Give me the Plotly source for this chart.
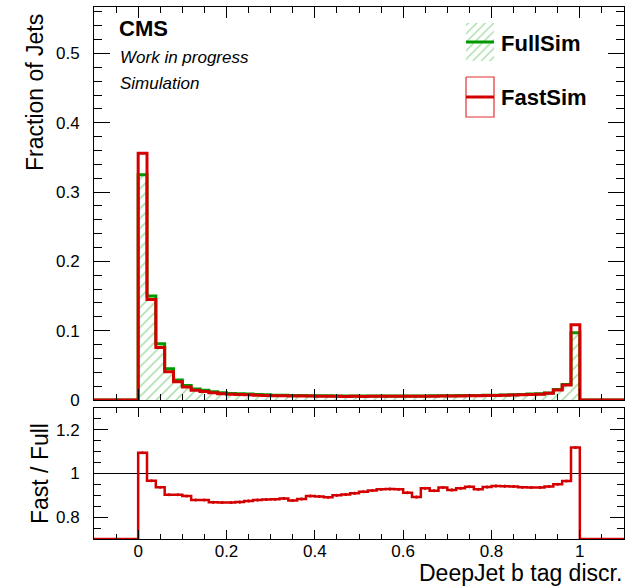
import numpy as np
import plotly.graph_objects as go

# ---------------- data ----------------
bin_lo, bin_hi, bin_w = 0.0, 1.0, 0.02
x_lo, x_hi = -0.1, 1.1

full_sim = [0.325, 0.150, 0.081, 0.045, 0.029, 0.021, 0.016, 0.014, 0.012, 0.0105,
            0.0095, 0.0090, 0.0085, 0.0080, 0.0075, 0.0070, 0.0068, 0.0066, 0.0064, 0.0062,
            0.0061, 0.0060, 0.0059, 0.0058, 0.0058, 0.0057, 0.0057, 0.0057, 0.0057, 0.0058,
            0.0058, 0.0059, 0.0059, 0.0060, 0.0061, 0.0062, 0.0063, 0.0064, 0.0066, 0.0068,
            0.0070, 0.0073, 0.0075, 0.0080, 0.0085, 0.0090, 0.0102, 0.0152, 0.0225, 0.097]

fast_sim = [0.356, 0.145, 0.0759, 0.0406, 0.0262, 0.0188, 0.0141, 0.0123, 0.0104, 0.0091,
            0.0082, 0.0078, 0.0074, 0.0070, 0.0066, 0.0062, 0.0060, 0.0058, 0.0057, 0.0056,
            0.0055, 0.0053, 0.0053, 0.0052, 0.0053, 0.0052, 0.0053, 0.0053, 0.0053, 0.0054,
            0.0053, 0.0053, 0.0055, 0.0055, 0.0057, 0.0057, 0.0059, 0.0060, 0.0061, 0.0064,
            0.0066, 0.0069, 0.0071, 0.0075, 0.0080, 0.0084, 0.0096, 0.0145, 0.0217, 0.1085]

ratio = [1.095, 0.967, 0.937, 0.903, 0.903, 0.897, 0.879, 0.879, 0.868, 0.867,
         0.867, 0.869, 0.874, 0.879, 0.881, 0.882, 0.886, 0.876, 0.883, 0.897,
         0.895, 0.891, 0.900, 0.904, 0.910, 0.917, 0.922, 0.928, 0.929, 0.928,
         0.912, 0.892, 0.932, 0.921, 0.936, 0.925, 0.933, 0.939, 0.928, 0.938,
         0.943, 0.942, 0.941, 0.937, 0.936, 0.936, 0.941, 0.951, 0.966, 1.119]

ratio_err = [0.002, 0.003, 0.003, 0.004, 0.004, 0.004, 0.005, 0.005, 0.005, 0.005,
             0.006, 0.006, 0.006, 0.006, 0.006, 0.006, 0.006, 0.006, 0.006, 0.006,
             0.006, 0.006, 0.006, 0.006, 0.006, 0.006, 0.006, 0.006, 0.006, 0.006,
             0.006, 0.006, 0.006, 0.006, 0.006, 0.006, 0.006, 0.006, 0.006, 0.006,
             0.006, 0.006, 0.006, 0.005, 0.005, 0.005, 0.005, 0.004, 0.004, 0.003]

series_names = ["FullSim", "FastSim"]
x_title = "DeepJet b tag discr."
y_title = "Fraction of Jets"
ratio_title = "Fast / Full"

# ---------------- helpers ----------------
edges = np.round(np.arange(bin_lo, bin_hi + bin_w / 2, bin_w), 4)
centers = (edges[:-1] + edges[1:]) / 2


def step_xy(vals):
    xs = [x_lo] + list(edges[:-1]) + [bin_hi, x_hi]
    ys = [0.0] + list(vals) + [0.0, 0.0]
    return xs, ys


RED = "#d40000"
GREEN = "#009a00"
HATCH = "#47b847"
FONT = "Liberation Sans, Arial, Helvetica, sans-serif"

y_main = [0, 0.567]
y_ratio = [0.7, 1.3]

fig = go.Figure()

hatch = dict(shape="/", fgcolor=HATCH, bgcolor="rgba(0,0,0,0)", size=7, solidity=0.22)

xf, yf = step_xy(full_sim)
fig.add_trace(go.Scatter(x=xf, y=yf, mode="lines", line=dict(color=GREEN, width=3, shape="hv"),
                         fill="tozeroy", fillcolor="rgba(0,0,0,0)", fillpattern=hatch,
                         name=series_names[0], showlegend=False, xaxis="x", yaxis="y"))
xs, ys = step_xy(fast_sim)
fig.add_trace(go.Scatter(x=xs, y=ys, mode="lines", line=dict(color=RED, width=3, shape="hv"),
                         name=series_names[1], showlegend=False, xaxis="x", yaxis="y"))

# ratio panel (values of 0 outside [0,1] drawn at the lower frame edge as in ROOT)
xr, yr = step_xy(ratio)
yr_disp = [max(v, y_ratio[0]) for v in yr]
fig.add_trace(go.Scatter(x=xr, y=yr_disp, mode="lines", line=dict(color=RED, width=2.5, shape="hv"),
                         showlegend=False, xaxis="x2", yaxis="y2"))
fig.add_trace(go.Scatter(x=centers, y=ratio, mode="markers",
                         marker=dict(color=RED, size=3),
                         error_y=dict(type="data", array=ratio_err, color=RED, thickness=1.5, width=0),
                         showlegend=False, xaxis="x2", yaxis="y2"))

# legend drawn on an overlay axis in pixel units
lx0, lx1 = 466, 494
fig.add_trace(go.Scatter(x=[lx0, lx1, lx1, lx0, lx0], y=[23, 23, 61, 61, 23], mode="lines",
                         line=dict(width=0), fill="toself", fillcolor="rgba(0,0,0,0)",
                         fillpattern=dict(shape="/", fgcolor=HATCH, bgcolor="rgba(0,0,0,0)", size=6, solidity=0.22),
                         showlegend=False, hoverinfo="skip", xaxis="x3", yaxis="y3"))
fig.add_trace(go.Scatter(x=[lx0, lx1], y=[42, 42], mode="lines", line=dict(color=GREEN, width=3),
                         showlegend=False, hoverinfo="skip", xaxis="x3", yaxis="y3"))
fig.add_trace(go.Scatter(x=[lx0, lx1, lx1, lx0, lx0], y=[77, 77, 117, 117, 77], mode="lines",
                         line=dict(color="#e03030", width=1.2),
                         showlegend=False, hoverinfo="skip", xaxis="x3", yaxis="y3"))
fig.add_trace(go.Scatter(x=[lx0, lx1], y=[97, 97], mode="lines", line=dict(color=RED, width=3),
                         showlegend=False, hoverinfo="skip", xaxis="x3", yaxis="y3"))

axis_common = dict(showline=True, linecolor="black", linewidth=1, mirror="ticks",
                   ticks="inside", tickcolor="black", showgrid=False, zeroline=False,
                   tickfont=dict(family=FONT, size=17, color="black"))

fig.update_layout(
    width=638, height=588,
    margin=dict(l=94, r=14, t=7, b=49),
    paper_bgcolor="white", plot_bgcolor="rgba(0,0,0,0)",
    showlegend=False,
    xaxis=dict(domain=[0, 1], anchor="y", range=[x_lo, x_hi], showticklabels=False,
               tick0=0, dtick=0.2, ticklen=11,
               minor=dict(ticks="inside", dtick=0.05, tick0=0, ticklen=6, tickcolor="black"),
               **axis_common),
    yaxis=dict(domain=[0.2613, 1], anchor="x", range=y_main, tick0=0, dtick=0.1, ticklen=16,
               ticklabelstandoff=10,
               minor=dict(ticks="inside", dtick=0.02, tick0=0, ticklen=8, tickcolor="black"),
               **axis_common),
    xaxis2=dict(domain=[0, 1], anchor="y2", range=[x_lo, x_hi], matches="x",
                tick0=0, dtick=0.2, ticklen=9, ticklabelstandoff=-3,
                minor=dict(ticks="inside", dtick=0.05, tick0=0, ticklen=5, tickcolor="black"),
                **axis_common),
    yaxis2=dict(domain=[0, 0.2462], anchor="x2", range=y_ratio, tick0=0, dtick=0.2, ticklen=14,
                ticklabelstandoff=10,
                minor=dict(ticks="inside", dtick=0.05, tick0=0, ticklen=7, tickcolor="black"),
                **axis_common),
    xaxis3=dict(overlaying="x", anchor="y3", range=[94, 624], visible=False, fixedrange=True),
    yaxis3=dict(overlaying="y", anchor="x3", range=[400, 7], visible=False, fixedrange=True),
)

fig.add_shape(type="line", xref="x2", yref="y2", x0=x_lo, x1=x_hi, y0=1, y1=1,
              line=dict(color="black", width=1), layer="below")


def px_x(p):
    return (p - 94) / 530


def px_y(p):
    return (539 - p) / 532


ann = [
    dict(text=y_title, x=px_x(35), y=px_y(93), textangle=-90, font=dict(size=23)),
    dict(text=ratio_title, x=px_x(40), y=px_y(474), textangle=-90, font=dict(size=23)),
    dict(text=x_title, x=1.0, y=px_y(573), xanchor="right", font=dict(size=23)),
    dict(text="<b>CMS</b>", x=px_x(117), y=px_y(29), xanchor="left", font=dict(size=22)),
    dict(text="<i>Work in progress</i>", x=px_x(118), y=px_y(58), xanchor="left", font=dict(size=17)),
    dict(text="<i>Simulation</i>", x=px_x(118), y=px_y(83), xanchor="left", font=dict(size=17)),
    dict(text="<b>" + series_names[0] + "</b>", x=px_x(499), y=px_y(43), xanchor="left", font=dict(size=22)),
    dict(text="<b>" + series_names[1] + "</b>", x=px_x(499), y=px_y(97), xanchor="left", font=dict(size=22)),
]
for a in ann:
    a.setdefault("xanchor", "center")
    a["font"] = dict(family=FONT, color="black", **a["font"])
    fig.add_annotation(xref="paper", yref="paper", showarrow=False, yanchor="middle", **a)

fig.write_html("out.html")
